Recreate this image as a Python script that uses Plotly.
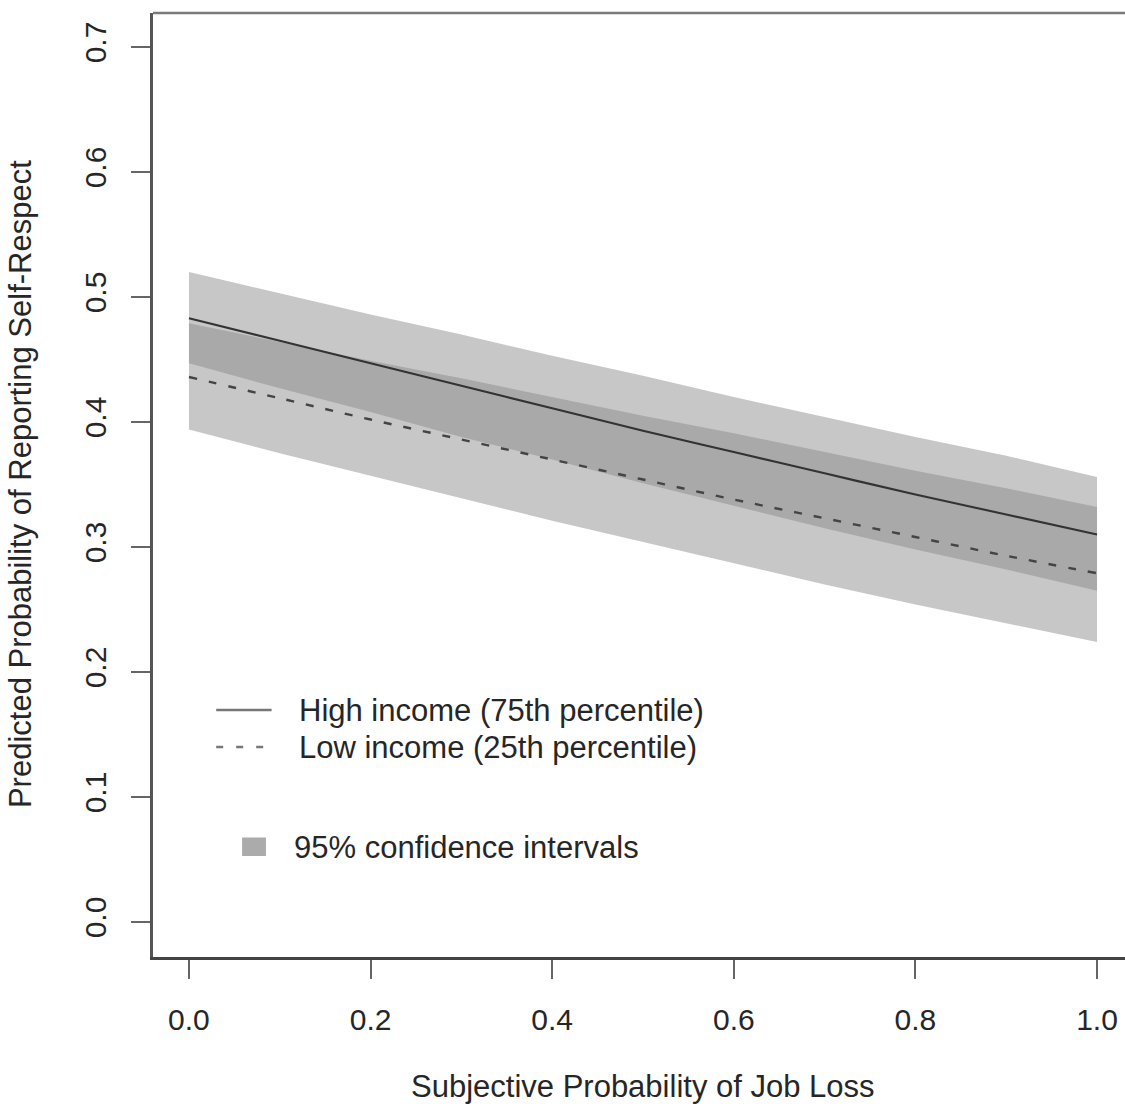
import plotly.graph_objects as go

# ---- data ----
x_vals = [0.0, 0.1, 0.2, 0.3, 0.4, 0.5, 0.6, 0.7, 0.8, 0.9, 1.0]

high_mean = [0.483, 0.465, 0.447, 0.429, 0.411, 0.393, 0.376, 0.359, 0.342, 0.326, 0.310]
high_upper = [0.520, 0.503, 0.486, 0.470, 0.453, 0.437, 0.420, 0.404, 0.388, 0.373, 0.356]
high_lower = [0.447, 0.427, 0.408, 0.388, 0.370, 0.351, 0.333, 0.315, 0.298, 0.282, 0.265]

low_mean = [0.436, 0.419, 0.402, 0.386, 0.370, 0.354, 0.338, 0.323, 0.308, 0.293, 0.279]
low_upper = [0.479, 0.464, 0.449, 0.435, 0.420, 0.405, 0.391, 0.376, 0.361, 0.347, 0.332]
low_lower = [0.394, 0.375, 0.357, 0.339, 0.321, 0.304, 0.287, 0.270, 0.254, 0.239, 0.224]

x_ticks = [0.0, 0.2, 0.4, 0.6, 0.8, 1.0]
x_ticktext = ["0.0", "0.2", "0.4", "0.6", "0.8", "1.0"]
y_ticks = [0.0, 0.1, 0.2, 0.3, 0.4, 0.5, 0.6, 0.7]
y_ticktext = ["0.0", "0.1", "0.2", "0.3", "0.4", "0.5", "0.6", "0.7"]

legend_labels = ["High income (75th percentile)", "Low income (25th percentile)", "95% confidence intervals"]
x_title = "Subjective Probability of Job Loss"
y_title = "Predicted Probability of Reporting Self-Respect"

FONT = "Liberation Sans, Arial, Helvetica, sans-serif"
FS = 31
FS_TICK = 30
TXT = "#262626"
BAND = "rgba(135,135,135,0.47)"

fig = go.Figure()

# confidence bands
for up, lo in [(high_upper, high_lower), (low_upper, low_lower)]:
    fig.add_trace(go.Scatter(
        x=x_vals + x_vals[::-1], y=up + lo[::-1],
        fill="toself", fillcolor=BAND, mode="lines",
        line=dict(width=0, color="rgba(0,0,0,0)"),
        showlegend=False, hoverinfo="skip"))

# predicted lines
fig.add_trace(go.Scatter(x=x_vals, y=high_mean, mode="lines",
                         line=dict(color="#333333", width=2.2, shape="spline"),
                         showlegend=False))
fig.add_trace(go.Scatter(x=x_vals, y=low_mean, mode="lines",
                         line=dict(color="#444444", width=2.4, dash="8px,12px", shape="spline"),
                         showlegend=False))

# ---- manual R-style legend (positions in data units) ----
shapes = [
    dict(type="line", xref="x", yref="y", x0=0.030, x1=0.091, y0=0.1696, y1=0.1696,
         line=dict(color="#777777", width=2.5)),
    dict(type="line", xref="x", yref="y", x0=0.030, x1=0.091, y0=0.140, y1=0.140,
         line=dict(color="#777777", width=2.5, dash="7px,13px")),
    dict(type="rect", xref="x", yref="y", x0=0.0585, x1=0.0848, y0=0.0528, y1=0.0676,
         fillcolor="#ababab", line=dict(width=0)),
    # top border of the box
    dict(type="line", xref="paper", yref="paper", x0=0, x1=1, y0=1, y1=1,
         line=dict(color="#7a7a7a", width=2.5)),
]

annotations = [
    dict(x=0.119, y=0.1696, xref="x", yref="y", text=legend_labels[0], showarrow=False,
         xanchor="left", yanchor="middle", font=dict(family=FONT, size=FS, color=TXT)),
    dict(x=0.119, y=0.140, xref="x", yref="y", text=legend_labels[1], showarrow=False,
         xanchor="left", yanchor="middle", font=dict(family=FONT, size=FS, color=TXT)),
    dict(x=0.114, y=0.060, xref="x", yref="y", text=legend_labels[2], showarrow=False,
         xanchor="left", yanchor="middle", font=dict(family=FONT, size=FS, color=TXT)),
    dict(x=0.5041, y=-0.1377, xref="paper", yref="paper", text=x_title, showarrow=False,
         xanchor="center", yanchor="middle", font=dict(family=FONT, size=FS, color=TXT)),
    dict(x=-0.1368, y=0.501, xref="paper", yref="paper", text=y_title, showarrow=False,
         textangle=-90, xanchor="center", yanchor="middle",
         font=dict(family=FONT, size=FS, color=TXT)),
]

fig.update_layout(
    width=1125, height=1106,
    margin=dict(l=153, r=0, t=13, b=149),
    paper_bgcolor="white", plot_bgcolor="white",
    showlegend=False,
    shapes=shapes, annotations=annotations,
    font=dict(family=FONT, size=FS, color=TXT),
    xaxis=dict(range=[-0.0396, 1.0308], tickvals=x_ticks, ticktext=x_ticktext,
               ticks="outside", ticklen=19, tickwidth=2, tickcolor="#666666",
               showline=True, linecolor="#444444", linewidth=2.5,
               showgrid=False, zeroline=False, ticklabelstandoff=15,
               tickfont=dict(family=FONT, size=FS_TICK, color=TXT)),
    yaxis=dict(range=[-0.028, 0.7272], tickvals=y_ticks, ticktext=y_ticktext,
               ticks="outside", ticklen=19, tickwidth=2, tickcolor="#666666",
               showline=True, linecolor="#555555", linewidth=2.5,
               showgrid=False, zeroline=False, tickangle=-90, ticklabelstandoff=13,
               tickfont=dict(family=FONT, size=FS_TICK, color=TXT)),
)

fig.write_html(
    "out.html",
    config={"displayModeBar": False},
    post_script="document.body.style.margin='0';document.body.style.overflow='hidden';",
)
